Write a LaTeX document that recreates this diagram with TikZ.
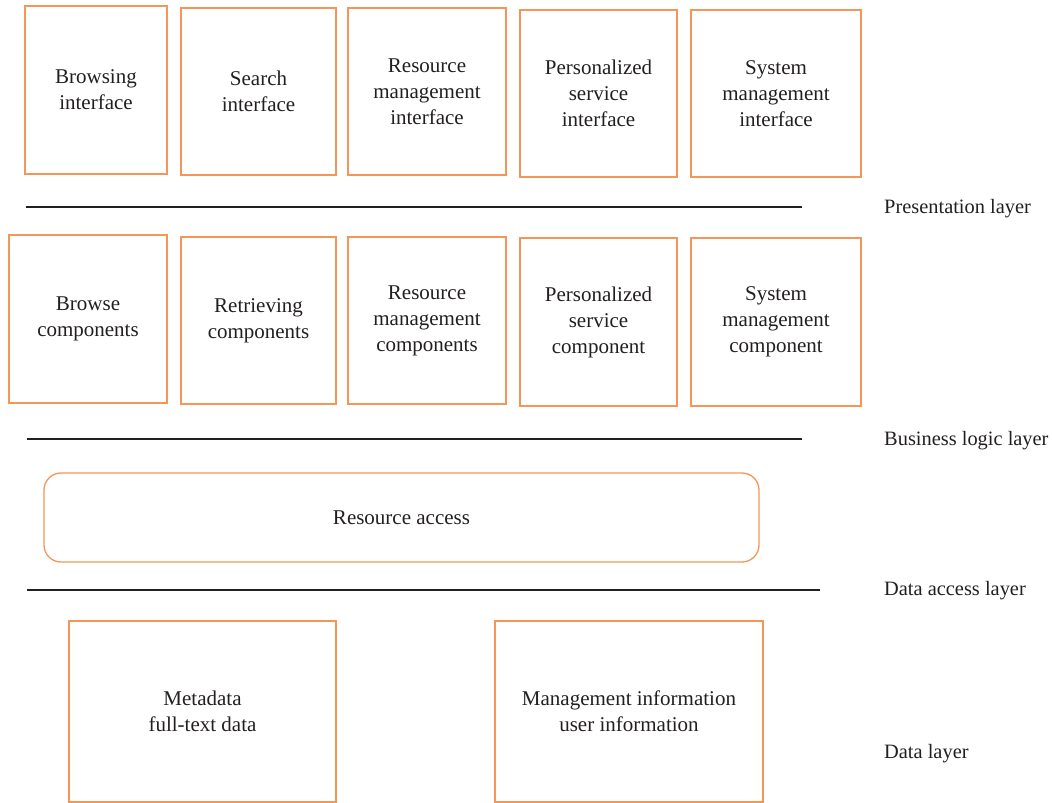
\documentclass[tikz,border=0pt]{standalone}
\usepackage{fontspec}
\setmainfont{Liberation Serif}
\usepackage{tikz}
\definecolor{boxorange}{RGB}{243,150,88}
\definecolor{inkgray}{RGB}{35,31,32}

\begin{document}
\begin{tikzpicture}[x=1pt,y=-1pt,
  txt/.style={text=inkgray,font=\fontsize{21}{26}\selectfont},
  box/.style={txt,rectangle,draw=boxorange,line width=1.3pt,align=center,inner sep=0pt},
  rbox/.style={box,rounded corners=17pt},
  layer/.style={txt,font=\fontsize{20.4}{26}\selectfont,anchor=west,inner sep=0pt},
  sep/.style={draw=inkgray,line width=1.1pt}]
\useasboundingbox (0,0) rectangle (1052,803);
% presentation layer
\node[box] (BI) [minimum width=142pt, minimum height=168pt] at (96,90) {Browsing\\interface};
\node[box] (SI) [minimum width=155pt, minimum height=167pt] at (258.5,91.5) {Search\\interface};
\node[box] (RI) [minimum width=158pt, minimum height=167pt] at (427,91.5) {Resource\\management\\interface};
\node[box] (PI) [minimum width=157pt, minimum height=167pt] at (598.5,93.5) {Personalized\\service\\interface};
\node[box] (MI) [minimum width=170pt, minimum height=167pt] at (776,93.5) {System\\management\\interface};
\coordinate (P1) at (26,207);
\coordinate (P2) at (802,207);
\node[layer] (PL) at (884,209) {Presentation layer};
% business logic layer
\node[box] (BC) [minimum width=158pt, minimum height=168pt] at (88,319) {Browse\\components};
\node[box] (SC) [minimum width=155pt, minimum height=167pt] at (258.5,320.5) {Retrieving\\components};
\node[box] (RC) [minimum width=158pt, minimum height=167pt] at (427,320.5) {Resource\\management\\components};
\node[box] (PC) [minimum width=157pt, minimum height=168pt] at (598.5,322) {Personalized\\service\\component};
\node[box] (MC) [minimum width=170pt, minimum height=168pt] at (776,322) {System\\management\\component};
\coordinate (B1) at (27,439);
\coordinate (B2) at (802,439);
\node[layer] (BL) at (884,441) {Business logic layer};
% data access layer
\node[rbox] (RA) [minimum width=715pt, minimum height=89pt] at (401.5,517.5) {Resource access};
\coordinate (A1) at (27,590);
\coordinate (A2) at (820,590);
\node[layer] (AL) at (884,591) {Data access layer};
% data layer
\node[box] (MD) [minimum width=267pt, minimum height=181pt] at (202.5,711.5) {Metadata\\full-text data};
\node[box] (UD) [minimum width=268pt, minimum height=181pt] at (629,711.5) {Management information\\user information};
\node[layer] (DL) at (884,754) {Data layer};
\path[sep]
(P1) edge (P2)
(B1) edge (B2)
(A1) edge (A2);
\end{tikzpicture}
\end{document}
